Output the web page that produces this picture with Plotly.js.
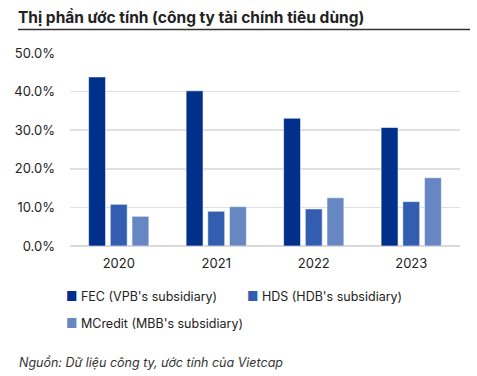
<!DOCTYPE html>
<html><head><meta charset="utf-8">
<script src="https://cdn.plot.ly/plotly-3.0.1.min.js"></script>
<style>html,body{margin:0;padding:0;background:#fff}#c{width:477px;height:376px}</style>
</head><body><div id="c"></div>
<script>
const years = ['2020', '2021', '2022', '2023'];
const seriesNames = ["FEC (VPB's subsidiary)", "HDS (HDB's subsidiary)", "MCredit (MBB's subsidiary)"];
const fec = [43.8, 40.2, 33.1, 30.7];
const hds = [10.8, 9.0, 9.6, 11.5];
const mcredit = [7.7, 10.2, 12.5, 17.7];
const colors = ['#00308A', '#325DB0', '#6787C3'];
const yTicks = [0, 10, 20, 30, 40, 50];
const yTickText = ['0.0%', '10.0%', '20.0%', '30.0%', '40.0%', '50.0%'];
const titleText = 'Thị phần ước tính (công ty tài chính tiêu dùng)';
const sourceText = 'Nguồn: Dữ liệu công ty, ước tính của Vietcap';

const W = 477, H = 376, L = 70, R = 17, T = 53, B = 130;
const pw = W - L - R, ph = H - T - B;
const px = x => (x - L) / pw;
const py = y => (H - B - y) / ph;
const FONT = 'Inter, "Noto Sans", sans-serif';

const values = [fec, hds, mcredit];
const traces = values.map((v, i) => ({
  type: 'bar', x: years, y: v, name: seriesNames[i],
  marker: {color: colors[i], line: {color: 'rgba(255,255,255,0.55)', width: 1}},
  hoverinfo: 'skip', showlegend: false
}));

const legendPos = [[65, 296], [246, 296], [65, 323]];
const annotations = seriesNames.map((n, i) => ({
  xref: 'paper', yref: 'paper', x: px(legendPos[i][0] - 1), y: py(legendPos[i][1]),
  xanchor: 'left', yanchor: 'middle', showarrow: false,
  text: '<span style="color:' + colors[i] + '">■</span> ' + n,
  font: {family: FONT, size: 12.5, color: '#222'}
}));
annotations.push({
  xref: 'paper', yref: 'paper', x: px(17), y: py(362), xanchor: 'left', yanchor: 'middle',
  showarrow: false, text: '<i>' + sourceText + '</i>',
  font: {family: FONT, size: 12.5, color: '#333'}
});

const layout = {
  width: W, height: H,
  margin: {l: L, r: R, t: T, b: B, pad: 0},
  paper_bgcolor: '#fff', plot_bgcolor: '#fff',
  title: {text: '<b>' + titleText + '</b>', xref: 'container', yref: 'container',
    x: 18 / W, xanchor: 'left', y: 1 - 18 / H, yanchor: 'middle',
    font: {family: FONT, size: 15.5, color: '#222'}},
  barmode: 'group', bargap: 0.333, bargroupgap: 0.22,
  xaxis: {type: 'category', showgrid: false, zeroline: false, showline: false, ticks: '',
    tickfont: {family: FONT, size: 13, color: '#222'}, ticklabelstandoff: 8},
  yaxis: {range: [0, 50], tickvals: yTicks, ticktext: yTickText, showgrid: true,
    gridcolor: '#e0e0e0', gridwidth: 1.5, zeroline: true, zerolinecolor: '#d9d9d9', zerolinewidth: 1.5,
    showline: false, ticks: '', ticklabelstandoff: 14,
    tickfont: {family: FONT, size: 13, color: '#222'}},
  shapes: [{type: 'line', xref: 'paper', yref: 'paper', x0: px(18), x1: px(470), y0: py(29.5), y1: py(29.5),
    line: {color: '#333', width: 1.5}}],
  annotations: annotations
};
Plotly.newPlot('c', traces, layout, {displayModeBar: false, staticPlot: true});
</script></body></html>
